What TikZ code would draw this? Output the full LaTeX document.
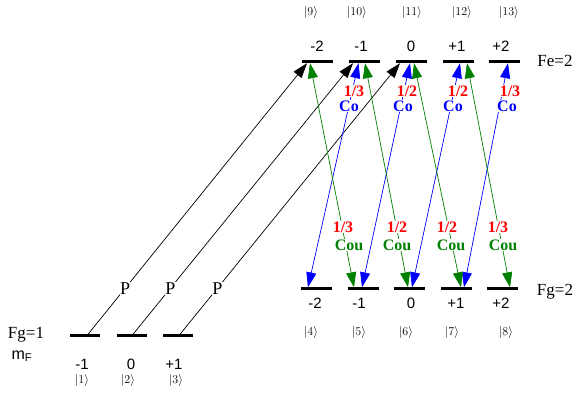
\documentclass[tikz,border=0pt]{standalone}
\usepackage{fontspec}
\setmainfont{Liberation Serif}
\setsansfont{Liberation Sans}
\usepackage{tikz}
\usetikzlibrary{arrows.meta}
\definecolor{coblue}{RGB}{0,0,255}
\definecolor{cougreen}{RGB}{0,128,0}
\definecolor{fracred}{RGB}{255,0,0}

\tikzset{
  lvl/.style={fill=black, minimum width=31pt, minimum height=3pt, inner sep=0pt},
  mfval/.style={font=\sffamily\fontsize{15}{15}\selectfont},
  ket/.style={font=\fontsize{12.5}{12.5}\selectfont},
  lab/.style={font=\fontsize{17}{17}\selectfont},
  frac/.style={font=\bfseries\fontsize{16}{16}\selectfont, text=fracred, fill=white, inner sep=0.5pt},
  pump/.style={-{Triangle[length=15pt,width=10pt]}, black, line width=0.7pt},
  co/.style={{Triangle[length=15pt,width=10pt]}-{Triangle[length=15pt,width=10pt]}, coblue, line width=0.7pt},
  cou/.style={{Triangle[length=15pt,width=10pt]}-{Triangle[length=15pt,width=10pt]}, cougreen, line width=0.7pt}
}

\begin{document}
\begin{tikzpicture}[x=1pt, y=-1pt]
  \useasboundingbox (0,0) rectangle (573,403);

  % Fe=2 (excited)
  \node[lvl] (u9)  at (317,61.5) {};
  \node[lvl] (u10) at (364,61.5) {};
  \node[lvl] (u11) at (411,61.5) {};
  \node[lvl] (u12) at (458,61.5) {};
  \node[lvl] (u13) at (504,61.5) {};
  \node[mfval] (mu9)  at (317,46) {-2};
  \node[mfval] (mu10) at (361,46) {-1};
  \node[mfval] (mu11) at (411,46) {0};
  \node[mfval] (mu12) at (457,46) {+1};
  \node[mfval] (mu13) at (501,46) {+2};
  \node[ket] (k9)  at (311,13) {$|9\rangle$};
  \node[ket] (k10) at (357,13) {$|10\rangle$};
  \node[ket] (k11) at (412,13) {$|11\rangle$};
  \node[ket] (k12) at (462,13) {$|12\rangle$};
  \node[ket] (k13) at (509,13) {$|13\rangle$};
  \node[lab] (fe) at (555,61) {Fe=2};

  % Fg=2 (lower ground)
  \node[lvl] (l4) at (316,289) {};
  \node[lvl] (l5) at (363,289) {};
  \node[lvl] (l6) at (409.5,289) {};
  \node[lvl] (l7) at (456.5,289) {};
  \node[lvl] (l8) at (502.5,289) {};
  \node[mfval] (ml4) at (315,303) {-2};
  \node[mfval] (ml5) at (359,303) {-1};
  \node[mfval] (ml6) at (411,303) {0};
  \node[mfval] (ml7) at (456,303) {+1};
  \node[mfval] (ml8) at (501,303) {+2};
  \node[ket] (k4) at (311,332) {$|4\rangle$};
  \node[ket] (k5) at (359,332) {$|5\rangle$};
  \node[ket] (k6) at (406,332) {$|6\rangle$};
  \node[ket] (k7) at (452,332) {$|7\rangle$};
  \node[ket] (k8) at (506,332) {$|8\rangle$};
  \node[lab] (fg2) at (555,292) {Fg=2};

  % Fg=1
  \node[lvl, minimum width=30pt] (g1) at (85,336) {};
  \node[lvl, minimum width=30pt] (g2) at (132,336) {};
  \node[lvl, minimum width=30pt] (g3) at (178,336) {};
  \node[lab] (fg1) at (26,335) {Fg=1};
  \node[mfval, font=\sffamily\fontsize{16}{16}\selectfont] (mf) at (22,356) {m\textsubscript{F}};
  \node[mfval] (mg1) at (82,364) {-1};
  \node[mfval] (mg2) at (131,364) {0};
  \node[mfval] (mg3) at (174,364) {+1};
  \node[ket] (k1) at (82,380) {$|1\rangle$};
  \node[ket] (k2) at (128,380) {$|2\rangle$};
  \node[ket] (k3) at (176,380) {$|3\rangle$};

  % pump P
  \draw[pump] ([xshift=3pt]g1.north) -- node[lab, font=\fontsize{18}{18}\selectfont, pos=0.17, fill=white, inner sep=0.5pt] (p1) {P} ([xshift=-10pt]u9.south);
  \draw[pump] ([xshift=1pt]g2.north) -- node[lab, font=\fontsize{18}{18}\selectfont, pos=0.17, fill=white, inner sep=0.5pt] (p2) {P} ([xshift=-11pt]u10.south);
  \draw[pump] ([xshift=2pt]g3.north) -- node[lab, font=\fontsize{18}{18}\selectfont, pos=0.17, fill=white, inner sep=0.5pt] (p3) {P} ([xshift=-11pt]u11.south);

  % coupling Co
  \draw[co] ([xshift=-5.5pt]u10.south) -- ([xshift=-8pt]l4.north);
  \draw[co] ([xshift=-1pt]u11.south) -- ([xshift=-1pt]l5.north);
  \draw[co] ([xshift=2pt]u12.south) -- ([xshift=2.5pt]l6.north);
  \draw[co] ([xshift=4pt]u13.south) -- ([xshift=7.5pt]l7.north);

  % coupling Cou
  \draw[cou] ([xshift=-7pt]u9.south) -- ([xshift=-9pt]l5.north);
  \draw[cou] ([xshift=1pt]u10.south) -- ([xshift=-1.5pt]l6.north);
  \draw[cou] ([xshift=3pt]u11.south) -- ([xshift=4.5pt]l7.north);
  \draw[cou] ([xshift=9pt]u12.south) -- ([xshift=7.5pt]l8.north);

  % strengths
  \node[frac] (f1) at (354,91) {1/3};
  \node[frac] (f2) at (407,91) {1/2};
  \node[frac] (f3) at (458,91) {1/2};
  \node[frac] (f4) at (510,91) {1/3};
  \node[frac, text=coblue] (c1) at (349,106) {Co};
  \node[frac, text=coblue] (c2) at (403,106) {Co};
  \node[frac, text=coblue] (c3) at (453,106) {Co};
  \node[frac, text=coblue] (c4) at (507,106) {Co};
  \node[frac] (f5) at (343,227) {1/3};
  \node[frac] (f6) at (397,227) {1/2};
  \node[frac] (f7) at (447,227) {1/2};
  \node[frac] (f8) at (498,227) {1/3};
  \node[frac, text=cougreen] (c5) at (349,245) {Cou};
  \node[frac, text=cougreen] (c6) at (397,245) {Cou};
  \node[frac, text=cougreen] (c7) at (451,245) {Cou};
  \node[frac, text=cougreen] (c8) at (503,245) {Cou};
\end{tikzpicture}
\end{document}
